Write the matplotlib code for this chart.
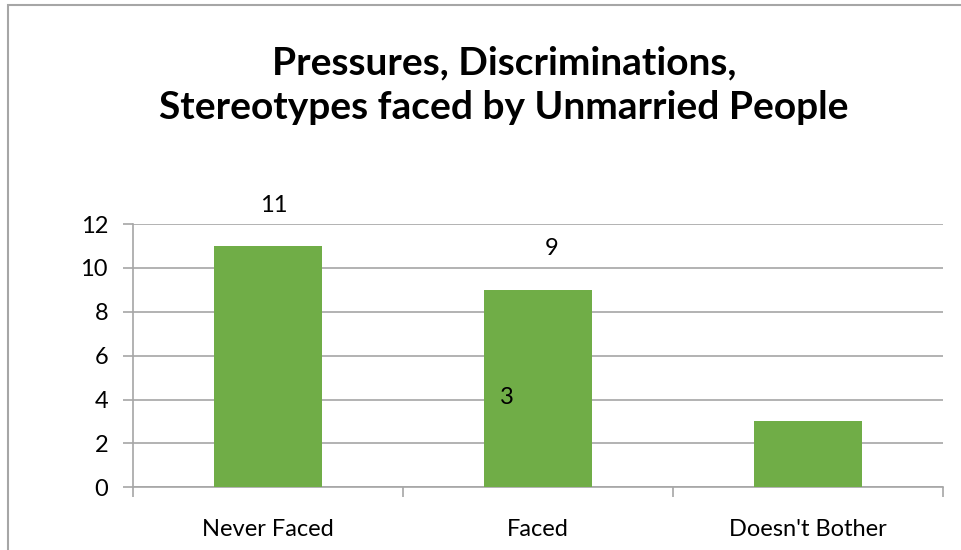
import matplotlib
matplotlib.use("Agg")
import matplotlib.pyplot as plt
from matplotlib.patches import Rectangle

categories = ["Never Faced", "Faced", "Doesn't Bother"]
values = [11, 9, 3]
title = "Pressures, Discriminations,\nStereotypes faced by Unmarried People"
yticks = [0, 2, 4, 6, 8, 10, 12]

# label placement (as shown in the reference) - style, not data
label_pos = [(0.02, 12.83), (1.05, 10.88), (0.885, 4.1)]

plt.rcParams['font.family'] = ['Lato', 'DejaVu Sans']

fig = plt.figure(figsize=(9.61, 5.5), dpi=100)
fig.patches.append(Rectangle((8/961, -0.05), 1.2, (550-4.5)/550 + 0.05, transform=fig.transFigure,
                             fill=False, edgecolor='#a6a6a6', linewidth=1.5, zorder=0))

ax = fig.add_axes([133/961, (550-487.3)/550, (943-133)/961, (487.3-224)/550])
x = list(range(len(categories)))
ax.bar(x, values, width=0.4, color='#70ad47', zorder=3)
ax.set_xlim(-0.5, len(categories) - 0.5)
ax.set_ylim(0, 12)
ax.set_yticks(yticks)
ax.set_yticklabels([str(t) for t in yticks], fontsize=17)
ax.yaxis.grid(True, color='#a6a6a6', linewidth=1.2, zorder=0)
ax.set_axisbelow(True)
for s in ['top', 'right']:
    ax.spines[s].set_visible(False)
ax.spines['left'].set_color('#a6a6a6')
ax.spines['bottom'].set_color('#a6a6a6')
ax.spines['left'].set_linewidth(1.2)
ax.spines['bottom'].set_linewidth(1.2)

ax.set_xticks([i - 0.5 for i in range(len(categories) + 1)], minor=False)
ax.set_xticklabels([])
ax.set_xticks(x, minor=True)
ax.set_xticklabels(categories, minor=True, fontsize=17)
ax.tick_params(axis='x', which='major', length=7, color='#a6a6a6', width=1.2)
ax.tick_params(axis='x', which='minor', length=0, pad=23)
ax.tick_params(axis='y', length=7, color='#a6a6a6', width=1.2, pad=11)

for v, (lx, ly) in zip(values, label_pos):
    ax.text(lx, ly, str(v), ha='center', va='center', fontsize=17)

fig.text(504/961, 0.845, title, ha='center', va='center', fontsize=28, fontweight='bold',
         linespacing=1.33)

fig.savefig("out.png", dpi=100)
